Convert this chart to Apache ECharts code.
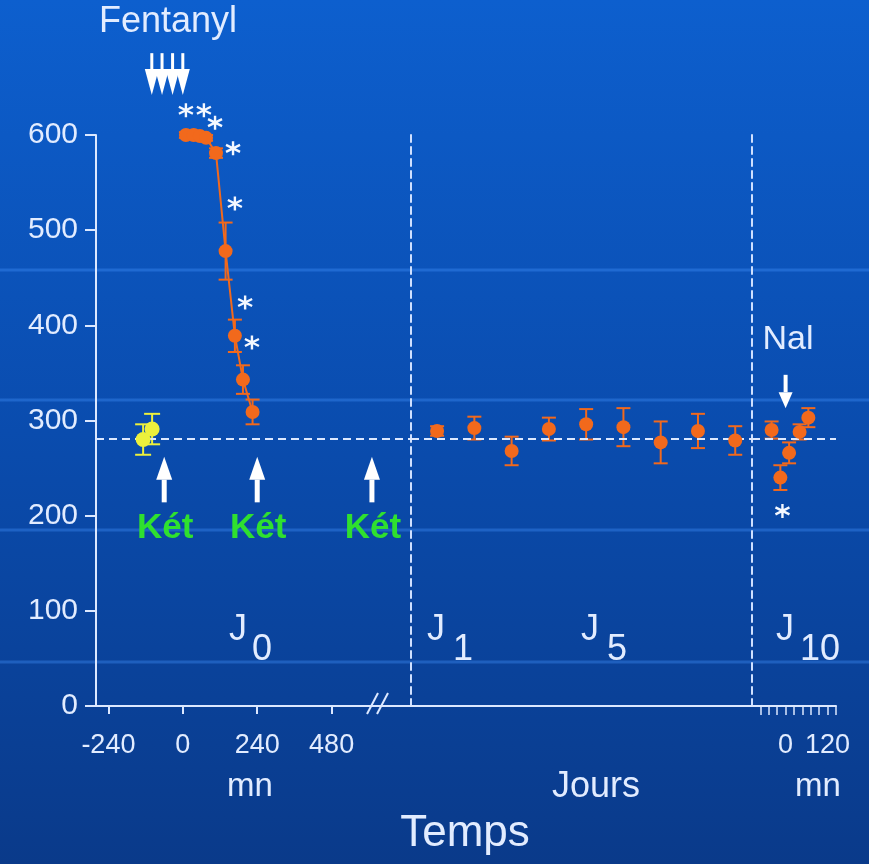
<!DOCTYPE html>
<html>
<head>
<meta charset="utf-8">
<script src="https://cdn.jsdelivr.net/npm/echarts@6/dist/echarts.min.js"></script>
<style>
  html, body { margin: 0; padding: 0; background: #0a4aa8; }
  #chart { width: 869px; height: 864px; }
</style>
</head>
<body>
<div id="chart"></div>
<script>
// Baseline before fentanyl (minutes relative to the first dose)
const baseMinutes = [-128, -99];
const baseValues = [280, 291];
const baseSem = [16, 16];

// Day 0 after fentanyl (minutes)
const j0Minutes = [10, 35, 55, 75, 107, 138, 168, 194, 225];
const j0Values = [600, 600, 599, 597, 581, 478, 389, 343, 309];
const j0Sem = [3, 3, 3, 3, 5, 30, 17, 15, 13];

// Days 1 to 9
const dayNumbers = [1, 2, 3, 4, 5, 6, 7, 8, 9];
const dayValues = [289, 292, 268, 291, 296, 293, 277, 289, 279];
const daySem = [5, 12, 15, 12, 16, 20, 22, 18, 15];

// Day 10, naloxone challenge (minutes)
const nalMinutes = [-40, -15, 10, 40, 65];
const nalValues = [290, 240, 266, 288, 303];
const nalSem = [9, 13, 11, 8, 10];

const baselineLevel = 281;

// Axis ticks and labels
const yTickStep = 100;
const j0TickLabels = [-240, 0, 240, 480];
const nalTicks = [-72, -48, -24, 0, 24, 48, 72, 96, 120, 144];
const nalTickLabels = [0, 120];

// Injections and significance marks
const fentanylDoses = [-100, -67, -33, 0];
const ketamineDoses = [-60, 240, 610];
const naloxoneDoses = [0];
const j0Stars = [[10, 626], [68, 626], [104, 613], [162, 586], [168, 528], [201, 424], [223, 382]];
const nalStars = [[-9, 205]];

const FONT = "'Liberation Sans', Arial, sans-serif";
const TEXT = '#e2ecff';
const AXIS = '#dce8ff';
const ORANGE = '#f2691c';
const YELLOW = '#ecf03c';

const chart = echarts.init(document.getElementById('chart'));

function errorBars(color, capHalf, width) {
  return function (params, api) {
    const x = api.value(0);
    const top = api.coord([x, api.value(2)]);
    const bot = api.coord([x, api.value(1)]);
    const style = { stroke: color, lineWidth: width };
    return {
      type: 'group',
      children: [
        { type: 'line', shape: { x1: top[0], y1: top[1], x2: bot[0], y2: bot[1] }, style },
        { type: 'line', shape: { x1: top[0] - capHalf, y1: top[1], x2: top[0] + capHalf, y2: top[1] }, style },
        { type: 'line', shape: { x1: bot[0] - capHalf, y1: bot[1], x2: bot[0] + capHalf, y2: bot[1] }, style }
      ]
    };
  };
}

function arrows(headLen, headHalf, stemWidth) {
  return function (params, api) {
    const x = api.value(0);
    const from = api.coord([x, api.value(1)]);
    const to = api.coord([x, api.value(2)]);
    const dir = Math.sign(to[1] - from[1]);
    const baseY = to[1] - dir * headLen;
    return {
      type: 'group',
      children: [
        { type: 'line', shape: { x1: from[0], y1: from[1], x2: from[0], y2: baseY }, style: { stroke: '#ffffff', lineWidth: stemWidth } },
        { type: 'polygon', shape: { points: [[to[0] - headHalf, baseY], [to[0] + headHalf, baseY], [to[0], to[1]]] }, style: { fill: '#ffffff' } }
      ]
    };
  };
}

const withSem = (xs, vs, sem) => vs.map((v, i) => [xs[i], v - sem[i], v + sem[i]]);
const pairs = (xs, vs) => vs.map((v, i) => [xs[i], v]);

const starSymbol = 'path://M10,0L10,20M1.34,5L18.66,15M1.34,15L18.66,5';
const starStyle = { color: 'rgba(0,0,0,0)', borderColor: '#f4f8ff', borderWidth: 2.4, opacity: 1 };

const baseLine = {
  silent: true,
  symbol: 'none',
  label: { show: false },
  lineStyle: { color: AXIS, width: 2, type: [8, 5] },
  data: [{ yAxis: baselineLevel }]
};

const axisLineStyle = { color: AXIS, width: 2 };
const dashedDivider = { color: '#cfe0ff', width: 2, type: [7, 5] };

const yCommon = {
  type: 'value', min: 0, max: 600, interval: yTickStep,
  splitLine: { show: false }
};

chart.setOption({
  animation: false,
  backgroundColor: {
    type: 'linear', x: 0, y: 0, x2: 0, y2: 1,
    colorStops: [
      { offset: 0, color: '#0d5fce' },
      { offset: 0.5, color: '#0a4cae' },
      { offset: 1, color: '#0a3a8a' }
    ]
  },
  grid: [
    { left: 96, top: 135, width: 315, height: 571 },
    { left: 411, top: 135, width: 341, height: 571 },
    { left: 752, top: 135, width: 84, height: 571 }
  ],
  xAxis: [
    {
      gridIndex: 0, type: 'value', min: -280, max: 736,
      axisLine: { onZero: false, lineStyle: axisLineStyle },
      axisTick: { show: true, customValues: j0TickLabels, length: 8, lineStyle: axisLineStyle },
      axisLabel: { customValues: j0TickLabels, color: TEXT, fontSize: 27, fontFamily: FONT, margin: 26 },
      splitLine: { show: false }
    },
    {
      gridIndex: 1, type: 'value', min: 0.3, max: 9.45,
      axisLine: { onZero: false, lineStyle: axisLineStyle },
      axisTick: { show: false }, axisLabel: { show: false },
      splitLine: { show: false }
    },
    {
      gridIndex: 2, type: 'value', min: -96, max: 144,
      axisLine: { onZero: false, lineStyle: axisLineStyle },
      axisTick: { show: true, customValues: nalTicks, length: 9, lineStyle: { color: AXIS, width: 1.5 } },
      axisLabel: { customValues: nalTickLabels, color: TEXT, fontSize: 27, fontFamily: FONT, margin: 26 },
      splitLine: { show: false }
    }
  ],
  yAxis: [
    Object.assign({}, yCommon, {
      gridIndex: 0,
      axisLine: { show: true, onZero: false, lineStyle: axisLineStyle },
      axisTick: { show: true, length: 11, lineStyle: axisLineStyle },
      axisLabel: { color: TEXT, fontSize: 30, fontFamily: FONT, margin: 18 }
    }),
    Object.assign({}, yCommon, {
      gridIndex: 1,
      axisLine: { show: true, onZero: false, lineStyle: dashedDivider },
      axisTick: { show: false }, axisLabel: { show: false }
    }),
    Object.assign({}, yCommon, {
      gridIndex: 2,
      axisLine: { show: true, onZero: false, lineStyle: dashedDivider },
      axisTick: { show: false }, axisLabel: { show: false }
    })
  ],
  series: [
    // Day 0
    {
      type: 'custom', xAxisIndex: 0, yAxisIndex: 0, z: 3,
      renderItem: errorBars(YELLOW, 8, 2), data: withSem(baseMinutes, baseValues, baseSem)
    },
    {
      type: 'scatter', xAxisIndex: 0, yAxisIndex: 0, z: 5,
      symbolSize: 15, itemStyle: { color: YELLOW, opacity: 1 },
      data: pairs(baseMinutes, baseValues),
      markLine: baseLine
    },
    {
      type: 'custom', xAxisIndex: 0, yAxisIndex: 0, z: 3, clip: false,
      renderItem: errorBars(ORANGE, 7, 2), data: withSem(j0Minutes, j0Values, j0Sem)
    },
    {
      type: 'line', xAxisIndex: 0, yAxisIndex: 0, z: 5, clip: false,
      symbol: 'circle', symbolSize: 14,
      lineStyle: { color: ORANGE, width: 2 }, itemStyle: { color: ORANGE, opacity: 1 },
      data: pairs(j0Minutes, j0Values)
    },
    {
      type: 'scatter', xAxisIndex: 0, yAxisIndex: 0, z: 6, clip: false,
      symbol: starSymbol, symbolSize: 14, itemStyle: starStyle, data: j0Stars
    },
    {
      type: 'custom', xAxisIndex: 0, yAxisIndex: 0, z: 6, clip: false,
      renderItem: arrows(26, 7, 3), data: fentanylDoses.map(m => [m, 686, 642])
    },
    {
      type: 'custom', xAxisIndex: 0, yAxisIndex: 0, z: 6, clip: false,
      renderItem: arrows(23, 8, 5), data: ketamineDoses.map(m => [m, 214, 262])
    },
    // Days 1 to 9
    {
      type: 'custom', xAxisIndex: 1, yAxisIndex: 1, z: 3,
      renderItem: errorBars(ORANGE, 7, 2), data: withSem(dayNumbers, dayValues, daySem)
    },
    {
      type: 'scatter', xAxisIndex: 1, yAxisIndex: 1, z: 5,
      symbolSize: 14, itemStyle: { color: ORANGE, opacity: 1 },
      data: pairs(dayNumbers, dayValues),
      markLine: baseLine
    },
    // Day 10, naloxone
    {
      type: 'custom', xAxisIndex: 2, yAxisIndex: 2, z: 3,
      renderItem: errorBars(ORANGE, 7, 2), data: withSem(nalMinutes, nalValues, nalSem)
    },
    {
      type: 'scatter', xAxisIndex: 2, yAxisIndex: 2, z: 5,
      symbolSize: 14, itemStyle: { color: ORANGE, opacity: 1 },
      data: pairs(nalMinutes, nalValues),
      markLine: baseLine
    },
    {
      type: 'scatter', xAxisIndex: 2, yAxisIndex: 2, z: 6, clip: false,
      symbol: starSymbol, symbolSize: 14, itemStyle: starStyle, data: nalStars
    },
    {
      type: 'custom', xAxisIndex: 2, yAxisIndex: 2, z: 6, clip: false,
      renderItem: arrows(16, 7, 4), data: naloxoneDoses.map(m => [m, 348, 313])
    }
  ]
});

// Text annotations and background streaks
function txt(text, x, y, size, opts) {
  return {
    type: 'text', z: 20,
    style: Object.assign({
      text, x, y,
      fill: TEXT,
      font: size + 'px ' + FONT,
      align: 'center', verticalAlign: 'middle',
      textAlign: 'center', textVerticalAlign: 'middle'
    }, opts || {})
  };
}

const streaks = [270, 400, 530, 662].map(y => ({
  type: 'rect', z: -5, silent: true,
  shape: { x: 0, y: y - 1.5, width: 869, height: 3 },
  style: { fill: 'rgba(70,150,255,0.35)' }
}));

const ketLabels = ketamineDoses.map(m => {
  const p = chart.convertToPixel({ xAxisIndex: 0, yAxisIndex: 0 }, [m, 0]);
  return txt('Két', p[0] + 1, 528, 35, { fill: '#2fe02f', font: 'bold 35px ' + FONT });
});

const dayTag = (main, sub, x, y, subDx) => [
  txt(main, x, y, 36),
  txt(sub, x + subDx, y + 20, 36)
];

chart.setOption({
  graphic: [].concat(
    streaks,
    [
      txt('Fentanyl', 168, 22, 36),
      txt('Nal', 788, 340, 34),
      txt('mn', 250, 787, 33),
      txt('Jours', 596, 787, 36),
      txt('mn', 818, 787, 33),
      txt('Temps', 465, 834, 44),
      { type: 'line', z: 20, shape: { x1: 367, y1: 714, x2: 378, y2: 693 }, style: { stroke: AXIS, lineWidth: 2 } },
      { type: 'line', z: 20, shape: { x1: 377, y1: 714, x2: 388, y2: 693 }, style: { stroke: AXIS, lineWidth: 2 } }
    ],
    ketLabels,
    dayTag('J', '0', 238, 630, 24),
    dayTag('J', '1', 436, 630, 27),
    dayTag('J', '5', 590, 630, 27),
    dayTag('J', '10', 785, 630, 35)
  )
});
</script>
</body>
</html>
